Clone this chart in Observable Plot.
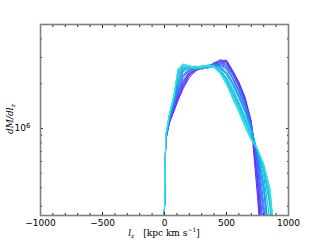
<!DOCTYPE html>
<html><head><meta charset="utf-8">
<script src="https://cdn.jsdelivr.net/npm/d3@7"></script>
<script src="https://cdn.jsdelivr.net/npm/@observablehq/plot@0.6"></script>
<style>body{margin:0;background:#fff} svg{display:block}</style>
</head><body><div id="chart"></div>
<script>
// l_z bin centres (kpc km/s)
const lzBins = [-10, 10, 40, 75, 110, 150, 200, 250, 300, 350, 400, 450, 500, 550, 600, 650, 700, 750, 800, 850, 900];
// dM/dl_z in units of 10^6, one array per snapshot (purple -> cyan)
const run00 = [0.1, 0.85, 1.10, 1.30, 1.55, 1.85, 2.20, 2.45, 2.55, 2.60, 2.70, 2.85, 2.88, 2.45, 2.05, 1.60, 1.05, 0.35, 0.10, 0.05, 0.05];
const run01 = [0.1, 0.82, 1.12, 1.33, 1.60, 1.95, 2.30, 2.50, 2.60, 2.55, 2.75, 2.90, 2.80, 2.40, 2.00, 1.58, 1.08, 0.45, 0.12, 0.05, 0.05];
const run02 = [0.1, 0.84, 1.09, 1.31, 1.58, 1.90, 2.28, 2.42, 2.62, 2.64, 2.66, 2.82, 2.84, 2.42, 2.03, 1.62, 1.12, 0.40, 0.11, 0.05, 0.05];
const run03 = [0.1, 0.86, 1.10, 1.35, 1.65, 2.00, 2.35, 2.45, 2.55, 2.65, 2.70, 2.80, 2.75, 2.35, 1.95, 1.55, 1.10, 0.50, 0.15, 0.05, 0.05];
const run04 = [0.1, 0.83, 1.13, 1.37, 1.70, 2.05, 2.38, 2.52, 2.58, 2.56, 2.78, 2.76, 2.70, 2.33, 1.93, 1.53, 1.06, 0.55, 0.17, 0.05, 0.05];
const run05 = [0.1, 0.84, 1.15, 1.40, 1.75, 2.10, 2.40, 2.55, 2.50, 2.60, 2.75, 2.75, 2.65, 2.30, 1.90, 1.50, 1.08, 0.58, 0.20, 0.06, 0.05];
const run06 = [0.1, 0.87, 1.14, 1.42, 1.80, 2.20, 2.45, 2.50, 2.60, 2.55, 2.70, 2.70, 2.60, 2.20, 1.82, 1.45, 1.05, 0.63, 0.25, 0.08, 0.05];
const run07 = [0.1, 0.85, 1.16, 1.45, 1.85, 2.25, 2.48, 2.57, 2.52, 2.63, 2.72, 2.68, 2.55, 2.18, 1.78, 1.42, 1.04, 0.64, 0.28, 0.09, 0.05];
const run08 = [0.1, 0.85, 1.18, 1.48, 1.90, 2.30, 2.50, 2.55, 2.55, 2.60, 2.65, 2.65, 2.50, 2.15, 1.75, 1.40, 1.02, 0.66, 0.32, 0.10, 0.05];
const run09 = [0.1, 0.88, 1.17, 1.50, 2.00, 2.40, 2.55, 2.50, 2.60, 2.65, 2.70, 2.60, 2.40, 2.05, 1.68, 1.35, 1.00, 0.68, 0.38, 0.14, 0.05];
const run10 = [0.1, 0.86, 1.19, 1.52, 2.05, 2.45, 2.62, 2.58, 2.52, 2.58, 2.68, 2.58, 2.35, 2.00, 1.64, 1.30, 0.99, 0.69, 0.40, 0.16, 0.05];
const run11 = [0.1, 0.86, 1.20, 1.55, 2.10, 2.50, 2.60, 2.55, 2.55, 2.60, 2.65, 2.55, 2.30, 1.95, 1.60, 1.28, 0.98, 0.70, 0.43, 0.18, 0.06];
const run12 = [0.1, 0.89, 1.20, 1.57, 2.20, 2.55, 2.55, 2.60, 2.60, 2.55, 2.60, 2.50, 2.20, 1.85, 1.50, 1.20, 0.95, 0.70, 0.48, 0.24, 0.07];
const run13 = [0.1, 0.87, 1.22, 1.60, 2.30, 2.60, 2.60, 2.50, 2.55, 2.65, 2.65, 2.45, 2.15, 1.78, 1.45, 1.15, 0.90, 0.71, 0.52, 0.30, 0.08];
const run14 = [0.1, 0.88, 1.21, 1.61, 2.35, 2.62, 2.52, 2.56, 2.64, 2.58, 2.62, 2.42, 2.12, 1.74, 1.42, 1.12, 0.89, 0.72, 0.53, 0.32, 0.09];
const run15 = [0.1, 0.90, 1.23, 1.62, 2.40, 2.65, 2.55, 2.60, 2.60, 2.60, 2.60, 2.40, 2.10, 1.70, 1.38, 1.10, 0.88, 0.72, 0.55, 0.34, 0.10];
const run16 = [0.1, 0.88, 1.24, 1.63, 2.45, 2.70, 2.65, 2.55, 2.55, 2.60, 2.65, 2.38, 2.05, 1.65, 1.35, 1.05, 0.85, 0.72, 0.56, 0.37, 0.12];
const run17 = [0.1, 0.91, 1.25, 1.66, 2.52, 2.62, 2.58, 2.63, 2.57, 2.68, 2.57, 2.33, 1.98, 1.62, 1.32, 1.04, 0.85, 0.73, 0.57, 0.38, 0.13];
const run18 = [0.1, 0.90, 1.26, 1.64, 2.50, 2.65, 2.60, 2.60, 2.60, 2.65, 2.60, 2.35, 2.00, 1.60, 1.30, 1.03, 0.84, 0.73, 0.57, 0.39, 0.14];
const run19 = [0.1, 0.90, 1.25, 1.65, 2.50, 2.72, 2.60, 2.55, 2.62, 2.65, 2.58, 2.35, 2.00, 1.58, 1.29, 1.02, 0.83, 0.72, 0.58, 0.40, 0.15];
const runs = [run00, run01, run02, run03, run04, run05, run06, run07, run08, run09,
              run10, run11, run12, run13, run14, run15, run16, run17, run18, run19];

const xMajorTicks = [-1000, -500, 0, 500, 1000];
const xMinorTicks = [-900, -800, -700, -600, -400, -300, -200, -100, 100, 200, 300, 400, 600, 700, 800, 900];
const yMajorTicks = [1];
const yMinorTicks = [0.3, 0.4, 0.5, 0.6, 0.7, 0.8, 0.9, 2, 3, 4];

const rows = runs.flatMap((vals, i) => vals.map((v, j) => ({lz: lzBins[j], dm: v, run: i})));

// matplotlib-like "rainbow" segment, purple -> turquoise
const rainbow = t => {
  const x = 0.03 + 0.33 * t;
  const r = Math.abs(2 * x - 0.5), g = Math.sin(Math.PI * x), b = Math.cos(Math.PI * x / 2);
  return d3.rgb(r * 255, g * 255, b * 255).formatHex();
};

const minus = d => d < 0 ? "\u2212" + Math.abs(d) : String(d);
const tickCol = "#222";

const chart = Plot.plot({
  width: 320, height: 240,
  marginLeft: 40, marginRight: 32, marginTop: 24, marginBottom: 25,
  style: {fontFamily: "DejaVu Sans", fontSize: "9px", background: "white", color: "#000"},
  x: {domain: [-1000, 1000]},
  y: {type: "log", domain: [0.26, 5]},
  color: {type: "linear", domain: [0, runs.length - 1], interpolate: rainbow},
  marks: [
    Plot.line(rows, {x: "lz", y: "dm", z: "run", stroke: "run", strokeWidth: 1, clip: true}),
    Plot.axisX(xMajorTicks, {anchor: "bottom", tickSize: 0, tickPadding: 4, tickFormat: minus, label: null}),
    Plot.axisX(xMajorTicks, {anchor: "bottom", tickSize: -3, text: null, label: null, stroke: tickCol}),
    Plot.axisX(xMinorTicks, {anchor: "bottom", tickSize: -2, text: null, label: null, stroke: tickCol}),
    Plot.axisX(xMajorTicks, {anchor: "top", tickSize: -3, text: null, label: null, stroke: tickCol}),
    Plot.axisX(xMinorTicks, {anchor: "top", tickSize: -2, text: null, label: null, stroke: tickCol}),
    Plot.axisY(yMajorTicks, {anchor: "left", tickSize: 0, tickPadding: 10, tickFormat: () => "10", label: null}),
    Plot.axisY(yMajorTicks, {anchor: "left", tickSize: -3, text: null, label: null, stroke: tickCol}),
    Plot.axisY(yMinorTicks, {anchor: "left", tickSize: -2, text: null, label: null, stroke: tickCol}),
    Plot.axisY(yMajorTicks, {anchor: "right", tickSize: -3, text: null, label: null, stroke: tickCol}),
    Plot.axisY(yMinorTicks, {anchor: "right", tickSize: -2, text: null, label: null, stroke: tickCol}),
    Plot.frame({stroke: "#808080", strokeWidth: 1.6})
  ]
});

const svg = d3.select(chart);
// superscript exponent on the 10^6 tick label only
svg.selectAll("g[aria-label='y-axis tick label'] text")
  .filter(function () { return this.textContent === "10"; })
  .each(function () {
    d3.select(this).append("tspan").attr("font-size", 7).attr("dy", "-0.45em").text("6");
  });

const yt = svg.append("text")
  .attr("transform", "translate(13,119) rotate(-90)")
  .attr("text-anchor", "middle")
  .attr("font-family", "DejaVu Serif").attr("font-size", 9).attr("font-style", "italic");
yt.append("tspan").text("dM/dl");
yt.append("tspan").attr("font-size", 6).attr("dy", 2).text("z");

const xt = svg.append("text")
  .attr("x", 164).attr("y", 236)
  .attr("text-anchor", "middle")
  .attr("font-family", "DejaVu Serif").attr("font-size", 9);
xt.append("tspan").attr("font-style", "italic").text("l");
xt.append("tspan").attr("font-size", 6).attr("font-style", "italic").attr("dy", 2).text("z");
xt.append("tspan").attr("dy", -2).text("\u2003[kpc km s");
xt.append("tspan").attr("font-size", 6).attr("dy", -4).text("\u22121");
xt.append("tspan").attr("dy", 4).text("]");

document.getElementById("chart").append(chart);
</script>
</body></html>
